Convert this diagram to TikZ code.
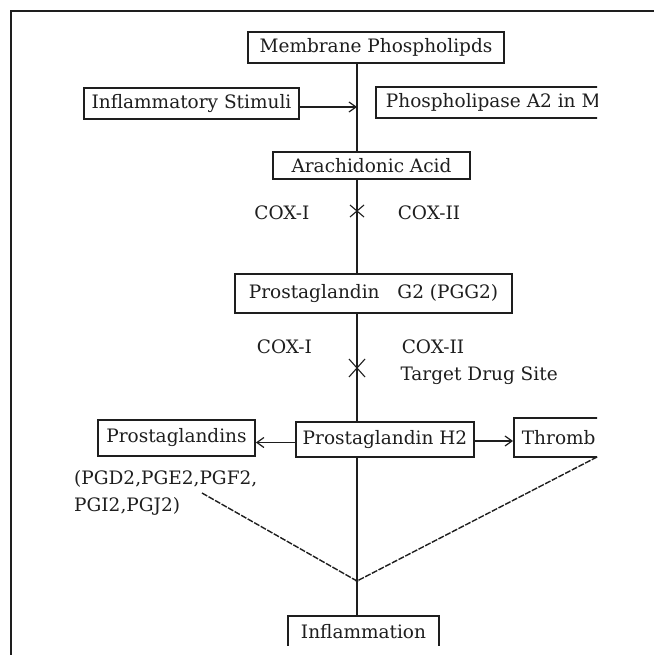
\documentclass[tikz,border=0pt]{standalone}
\usepackage{fontspec}
\setmainfont{DejaVu Serif}
\usetikzlibrary{arrows.meta}
\definecolor{ink}{HTML}{1E1E1E}
\begin{document}
\begin{tikzpicture}[x=1pt,y=-1pt,
  every node/.style={font=\fontsize{18.5}{22}\selectfont, text=ink},
  box/.style={draw=ink, line width=1.8pt, fill=white, inner sep=0pt},
  conn/.style={draw=ink, line width=1.4pt},
  tip/.style={-{Straight Barb[length=7pt,width=10pt,line width=1.2pt]}},
  dashline/.style={draw=ink, line width=1.4pt, dash pattern=on 6pt off 1.5pt},
  xmark/.style={draw=ink, line width=1.1pt}]
\useasboundingbox (0,0) rectangle (654,655);
% frame
\draw[ink, line width=1.5pt] (11,655) -- (11,11) -- (654,11);

% spine coordinate
\coordinate (j) at (357,581);

% boxes
\node[box, minimum width=256pt, minimum height=31pt] (mem) at (376,47.5) {Membrane Phospholipds};
\node[box, minimum width=215pt, minimum height=31pt] (stim) at (191.5,103.5) {Inflammatory Stimuli};
\node[box, minimum width=197pt, minimum height=27pt] (arach) at (371.5,165.5) {Arachidonic Acid};
\node[box, minimum width=277pt, minimum height=39pt] (pgg) at (373.5,293.5) {Prostaglandin\hspace{12pt} G2 (PGG2)};
\node[box, minimum width=157pt, minimum height=36pt] (pgs) at (176.5,438) {Prostaglandins};
\node[box, minimum width=178pt, minimum height=35pt] (h2) at (385,439.5) {Prostaglandin H2};

\begin{scope}
\clip (0,0) rectangle (597,645);
\node[box, anchor=west, minimum height=31pt, inner xsep=10pt] (pla) at (375,102.5) {Phospholipase A2 in M\hspace{30pt}};
\node[box, anchor=west, minimum height=39pt, inner xsep=8pt] (thr) at (513,437.5) {Thromb\hspace{40pt}};
\node[box, minimum width=151pt, minimum height=31pt] (infl) at (363.5,631.5) {Inflammation};
\end{scope}

% labels
\node (c1a) at (282,213) {COX-I};
\node (c2a) at (429,213) {COX-II};
\node (c1b) at (284.5,347) {COX-I};
\node (c2b) at (433,347) {COX-II};
\node[anchor=west] (tds) at (397,376) {Target Drug Site};
\node[anchor=north west, align=left, inner sep=0pt, font=\fontsize{18.5}{27}\selectfont] (pgl) at (74,470.5) {(PGD2,PGE2,PGF2,\\PGI2,PGJ2)};

% spine
\draw[conn] (mem.south -| j) -- (arach.north -| j);
\draw[conn] (arach.south -| j) -- (pgg.north -| j);
\draw[conn] (pgg.south -| j) -- (h2.north -| j);
\draw[conn] (h2.south -| j) -- (j) -- (infl.north -| j);

% side arrows
\draw[conn, tip] ([yshift=-3.5pt]stim.east) -- ([yshift=-3.5pt]stim.east -| j);
\draw[conn, tip] ([yshift=-3pt]h2.west) -- ([yshift=-3pt]h2.west -| pgs.east);
\draw[conn, tip] ([yshift=-1.5pt]h2.east) -- ([yshift=-1.5pt]h2.east -| thr.west);

% X marks
\coordinate (x1) at (357,211);
\coordinate (x2) at (357,368);
\draw[xmark] ([shift={(-7,-6)}]x1) -- ([shift={(7,6)}]x1);
\draw[xmark] ([shift={(-7,6)}]x1) -- ([shift={(7,-6)}]x1);
\draw[xmark] ([shift={(-8,-9)}]x2) -- ([shift={(8,9)}]x2);
\draw[xmark] ([shift={(-8,9)}]x2) -- ([shift={(8,-9)}]x2);

% dashed lines to junction
\coordinate (dl) at (202,493);
\coordinate (dr) at (597,457);
\draw[dashline] (dl) -- (j) -- (dr);
\fill[ink] (j) circle (1.6pt);
\end{tikzpicture}
\end{document}
